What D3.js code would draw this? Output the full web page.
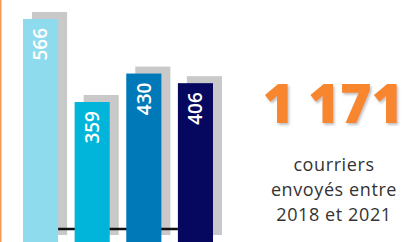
<!DOCTYPE html>
<html>
<head>
<meta charset="utf-8">
<script src="https://cdn.jsdelivr.net/npm/d3@7"></script>
<style>
  html, body { margin: 0; padding: 0; background: #fff; overflow: hidden; }
  svg { display: block; }
</style>
</head>
<body>
<div id="chart"></div>
<script>
// Données
const annees = ["2018", "2019", "2020", "2021"];
const courriers = [566, 359, 430, 406];
const couleurs = ["#8fdbee", "#00b5d9", "#0079b8", "#06075f"];
const total = "1 171";
const legende = ["courriers", "envoyés entre", "2018 et 2021"];

const width = 405,
  height = 242;

const svg = d3
  .select("#chart")
  .append("svg")
  .attr("width", width)
  .attr("height", height);

// Ombre portée du total
svg
  .append("defs")
  .append("filter")
  .attr("id", "ombre")
  .attr("x", "-10%")
  .attr("y", "-10%")
  .attr("width", "130%")
  .attr("height", "140%")
  .append("feDropShadow")
  .attr("dx", 1.5)
  .attr("dy", 2)
  .attr("stdDeviation", 1)
  .attr("flood-color", "#999")
  .attr("flood-opacity", 0.6);

const x = d3.scaleBand().domain(annees).range([23, 213]).paddingInner(0.32);
const y = d3.scaleLinear().domain([0, 566]).range([246, 19]);

// Ombre grise décalée des barres
const dx = 9,
  dy = -7;

// Filet orange à gauche
svg
  .append("rect")
  .attr("x", 0)
  .attr("y", 0)
  .attr("width", 1.5)
  .attr("height", height)
  .attr("fill", "#f59a55");

// Ombres
svg
  .append("g")
  .selectAll("rect")
  .data(courriers)
  .enter()
  .append("rect")
  .attr("x", (d, i) => x(annees[i]) + dx)
  .attr("y", (d) => y(d) + dy)
  .attr("width", x.bandwidth())
  .attr("height", (d) => y(0) - y(d) - 4)
  .attr("fill", "#c9c9c9");

// Ligne de base
svg
  .append("line")
  .attr("x1", x(annees[0]))
  .attr("x2", x(annees[3]))
  .attr("y1", 229)
  .attr("y2", 229)
  .attr("stroke", "#111")
  .attr("stroke-width", 2.5);

// Barres
svg
  .append("g")
  .selectAll("rect")
  .data(courriers)
  .enter()
  .append("rect")
  .attr("x", (d, i) => x(annees[i]))
  .attr("y", (d) => y(d))
  .attr("width", x.bandwidth())
  .attr("height", (d) => y(0) - y(d))
  .attr("fill", (d, i) => couleurs[i]);

// Valeurs (verticales)
svg
  .append("g")
  .selectAll("text")
  .data(courriers)
  .enter()
  .append("text")
  .attr("transform", (d, i) => {
    const cx = x(annees[i]) + x.bandwidth() / 2;
    return `translate(${cx},${y(d) + 9}) rotate(-90)`;
  })
  .attr("text-anchor", "end")
  .attr("dy", "0.36em")
  .style("font-family", "'Open Sans', sans-serif")
  .style("font-weight", 600)
  .style("font-size", "19px")
  .style("fill", "#fff")
  .text((d) => d);

// Total
const cxTexte = 334;
svg
  .append("text")
  .attr("x", cxTexte - 1)
  .attr("y", 123)
  .attr("text-anchor", "middle")
  .attr("filter", "url(#ombre)")
  .style("font-family", "'Open Sans', sans-serif")
  .style("font-weight", 800)
  .style("font-size", "54px")
  .style("fill", "#f7862f")
  .text(total);

// Légende sur trois lignes
svg
  .append("g")
  .selectAll("text")
  .data(legende)
  .enter()
  .append("text")
  .attr("x", cxTexte)
  .attr("y", (d, i) => 171 + i * 24.8)
  .attr("text-anchor", "middle")
  .style("font-family", "'Open Sans', sans-serif")
  .style("font-size", "18px")
  .style("letter-spacing", "0.6px")
  .style("fill", "#333")
  .text((d) => d);
</script>
</body>
</html>
